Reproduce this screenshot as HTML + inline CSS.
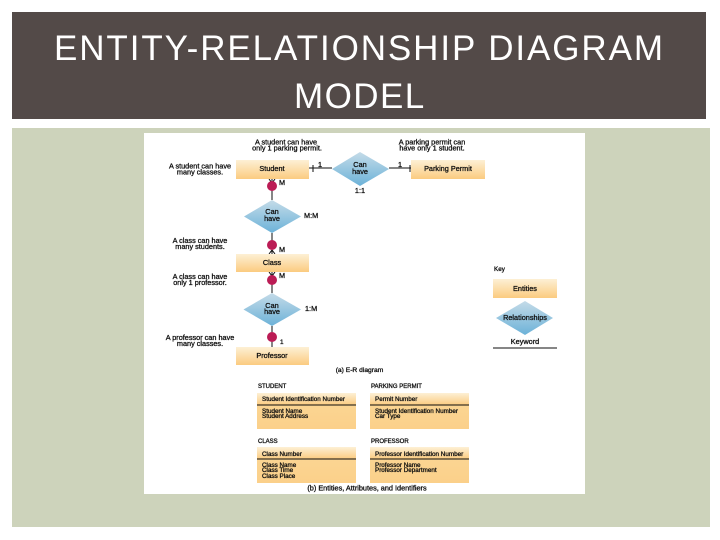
<!DOCTYPE html>
<html><head><meta charset="utf-8"><style>
html,body{margin:0;padding:0;background:#fff}
body{width:720px;height:540px;overflow:hidden;position:relative;font-family:"Liberation Sans",sans-serif}
svg{position:absolute;left:0;top:0}
.t{font-family:"Liberation Sans",sans-serif;font-size:7.3px;fill:#111;stroke:#111;stroke-width:.3}
.s{font-size:6.3px}
.k{font-size:6px}
.m{text-anchor:middle}
.h{font-family:"Liberation Sans",sans-serif;font-size:35px;fill:#fff;text-anchor:middle}
</style></head><body>
<svg width="720" height="540" viewBox="0 0 720 540" xmlns="http://www.w3.org/2000/svg">
<defs>
<linearGradient id="o" x1="0" y1="0" x2="0" y2="1"><stop offset="0" stop-color="#fdf0d5"/><stop offset="1" stop-color="#fbcb80"/></linearGradient>
<linearGradient id="b" x1="0" y1="0" x2="0" y2="1"><stop offset="0" stop-color="#c4dbe8"/><stop offset="1" stop-color="#6cb2d8"/></linearGradient>
<linearGradient id="o2" x1="0" y1="0" x2="0" y2="1"><stop offset="0" stop-color="#fbd592"/><stop offset="1" stop-color="#fbd08a"/></linearGradient>
<filter id="bl" x="-5%" y="-5%" width="110%" height="110%"><feGaussianBlur stdDeviation="0.35"/></filter>
</defs>
<rect x="12" y="12" width="694" height="107" fill="#534a48"/>
<text class="h" x="359.500" y="60" letter-spacing="2" textLength="611" lengthAdjust="spacing">ENTITY-RELATIONSHIP DIAGRAM</text>
<text class="h" x="360.500" y="108" letter-spacing="2.800" textLength="133" lengthAdjust="spacing">MODEL</text>
<rect x="12" y="128" width="698" height="399" fill="#cdd3bb"/>
<rect x="144" y="133" width="441" height="361" fill="#fff"/>

<g filter="url(#bl)">
<g stroke="#111" stroke-width="1" fill="none">
<path d="M309 168H332M313 165V172M389 168H411M410 165V172"/>
<path d="M272 179V200M272 233V254M272 272V293M272 326V347"/>
<path d="M269 179L272 183L275 179M269 254L272 250L275 254M269 272L272 276L275 272"/>
<path d="M493 348H557"/>
</g>

<g fill="url(#o)">
<rect x="236" y="160" width="73" height="19"/>
<rect x="411" y="160" width="74" height="19"/>
<rect x="236" y="254" width="73" height="18"/>
<rect x="236" y="347" width="73" height="18"/>
<rect x="493" y="279" width="64" height="19"/>
<rect x="257" y="393" width="99" height="12"/>
<rect x="370" y="393" width="99" height="12"/>
<rect x="257" y="447" width="99" height="12"/>
<rect x="370" y="447" width="99" height="12"/>
</g>
<g fill="url(#o2)">
<rect x="257" y="405" width="99" height="24"/>
<rect x="370" y="405" width="99" height="24"/>
<rect x="257" y="459" width="99" height="24"/>
<rect x="370" y="459" width="99" height="24"/>
</g>
<g stroke="#111" stroke-width="1"><path d="M257 405H356M370 405H469M257 459H356M370 459H469"/></g>

<g fill="url(#b)">
<polygon points="332,169 360,152 389,169 360,186"/>
<polygon points="244,216.500 272,200 301,216.500 272,233"/>
<polygon points="243.500,309.500 272,293 301,309.500 272,326"/>
<polygon points="496,318 525,301 553,318 525,335"/>
</g>
<g fill="#bb1a55">
<ellipse cx="272" cy="186" rx="5" ry="5"/>
<ellipse cx="272" cy="245" rx="5" ry="5"/>
<ellipse cx="272" cy="280" rx="5" ry="5"/>
<ellipse cx="272" cy="337" rx="5" ry="5"/>
</g>

<g>
<text class="t m" x="286" y="144.500">A student can have</text>
<text class="t m" x="287" y="150.500">only 1 parking permit.</text>
<text class="t m" x="432" y="144.500">A parking permit can</text>
<text class="t m" x="432" y="150.500">have only 1 student.</text>
<text class="t m" x="200" y="168.500">A student can have</text>
<text class="t m" x="200" y="174.500">many classes.</text>
<text class="t m" x="272" y="171">Student</text>
<text class="t m" x="448" y="171">Parking Permit</text>
<text class="t" x="318" y="167">1</text>
<text class="t" x="398" y="167">1</text>
<text class="t m" x="360" y="167">Can</text>
<text class="t m" x="360" y="174">have</text>
<text class="t m" x="360" y="193">1:1</text>
<text class="t" x="279" y="185">M</text>
<text class="t m" x="272" y="214">Can</text>
<text class="t m" x="272" y="221">have</text>
<text class="t" x="304" y="218">M:M</text>
<text class="t m" x="200" y="243">A class can have</text>
<text class="t m" x="200" y="249">many students.</text>
<text class="t" x="279" y="252">M</text>
<text class="t m" x="272" y="265">Class</text>
<text class="t" x="279" y="278">M</text>
<text class="t m" x="200" y="279">A class can have</text>
<text class="t m" x="200" y="285">only 1 professor.</text>
<text class="t m" x="272" y="308">Can</text>
<text class="t m" x="272" y="314">have</text>
<text class="t" x="305" y="311">1:M</text>
<text class="t m" x="200" y="340">A professor can have</text>
<text class="t m" x="200" y="346">many classes.</text>
<text class="t s" x="280" y="344">1</text>
<text class="t m" x="272" y="358">Professor</text>
<text class="t m" style="font-size:6.700px" x="359.500" y="372">(a) E-R diagram</text>
<text class="t s" x="494" y="271">Key</text>
<text class="t m" x="525" y="291">Entities</text>
<text class="t m" x="525" y="320">Relationships</text>
<text class="t m" x="525" y="344">Keyword</text>
<text class="t k" x="258" y="388">STUDENT</text>
<text class="t k" x="371" y="388">PARKING PERMIT</text>
<text class="t s" x="262" y="401">Student Identification Number</text>
<text class="t s" x="375" y="401">Permit Number</text>
<text class="t s" x="262" y="413">Student Name</text>
<text class="t s" x="262" y="418">Student Address</text>
<text class="t s" x="375" y="413">Student Identification Number</text>
<text class="t s" x="375" y="418">Car Type</text>
<text class="t k" x="258" y="443">CLASS</text>
<text class="t k" x="371" y="443">PROFESSOR</text>
<text class="t s" x="262" y="456">Class Number</text>
<text class="t s" x="375" y="456">Professor Identification Number</text>
<text class="t s" x="262" y="467">Class Name</text>
<text class="t s" x="262" y="472">Class Time</text>
<text class="t s" x="262" y="478">Class Place</text>
<text class="t s" x="375" y="467">Professor Name</text>
<text class="t s" x="375" y="472">Professor Department</text>
<text class="t m" x="367" y="490.500">(b) Entities, Attributes, and Identifiers</text>
</g>
</g>
</svg>
</body></html>
